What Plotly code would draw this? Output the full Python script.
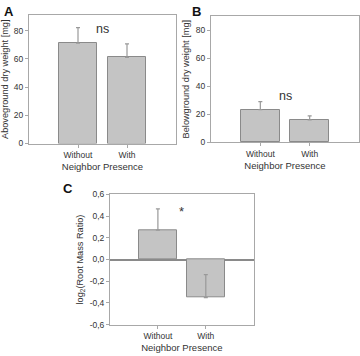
import plotly.graph_objects as go

categories = ["Without", "With"]
above_mean = [71, 61]
above_err = [11, 9.5]
below_mean = [23.3, 16]
below_err = [5.7, 2.8]
ratio_mean = [0.27, -0.35]
ratio_err = [0.195, 0.21]
tick_vals_ab = [0, 20, 40, 60, 80]
tick_vals_c = [-0.6, -0.4, -0.2, 0.0, 0.2, 0.4, 0.6]
tick_text_c = ["-0,6", "-0,4", "-0,2", "0,0", "0,2", "0,4", "0,6"]

W, H = 360, 356
FONT = "Liberation Sans, Arial, sans-serif"
TXT = "#333333"
BAR_FILL = "#c4c4c4"
BAR_LINE = "#8a8a8a"
FRAME = "#a8a8a8"
ERR = "#999999"

def px(x):
    return x / W

def py(y):
    return 1 - y / H

fig = go.Figure()

xpos = [0, 1]

def add_bars(vals, errs_plus, errs_minus, xa, ya):
    fig.add_trace(go.Bar(
        x=xpos, y=vals, width=0.79,
        marker=dict(color=BAR_FILL, line=dict(color=BAR_LINE, width=1)),
        error_y=dict(type="data", symmetric=False, array=errs_plus, arrayminus=errs_minus,
                     color=ERR, thickness=1.2, width=2),
        xaxis=xa, yaxis=ya, showlegend=False, hoverinfo="skip"))

add_bars(above_mean, above_err, [0, 0], "x", "y")
add_bars(below_mean, below_err, [0, 0], "x2", "y2")
add_bars(ratio_mean, [ratio_err[0], ratio_err[1]], [0, 0], "x3", "y3")

xcommon = dict(range=[-1, 2], tickvals=xpos, ticktext=categories, showline=True, mirror=True,
               linecolor=FRAME, linewidth=1, ticks="outside", ticklen=3, tickcolor=FRAME,
               showgrid=False, zeroline=False, automargin=False,
               tickfont=dict(family=FONT, size=8.5, color=TXT),
               title=dict(text="Neighbor Presence", font=dict(family=FONT, size=9.5, color=TXT), standoff=4))
ycommon = dict(showline=True, mirror=True, linecolor=FRAME, linewidth=1, ticks="outside",
               ticklen=3, tickcolor=FRAME, showgrid=False, automargin=False,
               tickfont=dict(family=FONT, size=8.5, color=TXT))
ytitle_font = dict(family=FONT, size=9.2, color=TXT)

fig.update_layout(
    width=W, height=H, margin=dict(l=0, r=0, t=0, b=0),
    paper_bgcolor="white", plot_bgcolor="white", bargap=0,
    xaxis=dict(domain=[px(29), px(176)], anchor="y", **xcommon),
    yaxis=dict(domain=[py(143.5), py(15)], anchor="x", range=[0, 91], tickvals=tick_vals_ab,
               zeroline=False,
               title=dict(text="Aboveground dry weight [mg]", font=ytitle_font, standoff=4),
               **ycommon),
    xaxis2=dict(domain=[px(211), px(359)], anchor="y2", **xcommon),
    yaxis2=dict(domain=[py(142.3), py(16)], anchor="x2", range=[0, 90], tickvals=tick_vals_ab,
                zeroline=False,
                title=dict(text="Belowground dry weight [mg]", font=ytitle_font, standoff=4),
                **ycommon),
    xaxis3=dict(domain=[px(110), px(253.7)], anchor="y3", **xcommon),
    yaxis3=dict(domain=[py(324.7), py(194.3)], anchor="x3", range=[-0.6, 0.6], tickvals=tick_vals_c,
                ticktext=tick_text_c, zeroline=True, zerolinecolor=BAR_LINE, zerolinewidth=1.5,
                title=dict(text="log<sub>2</sub>(Root Mass Ratio)", font=ytitle_font, standoff=4),
                **ycommon),
)

annots = [
    dict(text="<b>A</b>", x=px(2), y=py(2), xref="paper", yref="paper", xanchor="left", yanchor="top",
         showarrow=False, font=dict(family=FONT, size=13, color="#111")),
    dict(text="<b>B</b>", x=px(190), y=py(2), xref="paper", yref="paper", xanchor="left", yanchor="top",
         showarrow=False, font=dict(family=FONT, size=13, color="#111")),
    dict(text="<b>C</b>", x=px(61), y=py(179), xref="paper", yref="paper", xanchor="left", yanchor="top",
         showarrow=False, font=dict(family=FONT, size=13, color="#111")),
    dict(text="ns", x=0.5, y=81, xref="x", yref="y", showarrow=False,
         font=dict(family=FONT, size=12.5, color=TXT)),
    dict(text="ns", x=0.5, y=33, xref="x2", yref="y2", showarrow=False,
         font=dict(family=FONT, size=12.5, color=TXT)),
    dict(text="*", x=0.5, y=0.44, xref="x3", yref="y3", showarrow=False,
         font=dict(family=FONT, size=13, color=TXT)),
]
fig.update_layout(annotations=annots)

fig.write_html("out.html", config={"displayModeBar": False},
               post_script="document.body.style.margin='0';document.body.style.overflow='hidden';")
